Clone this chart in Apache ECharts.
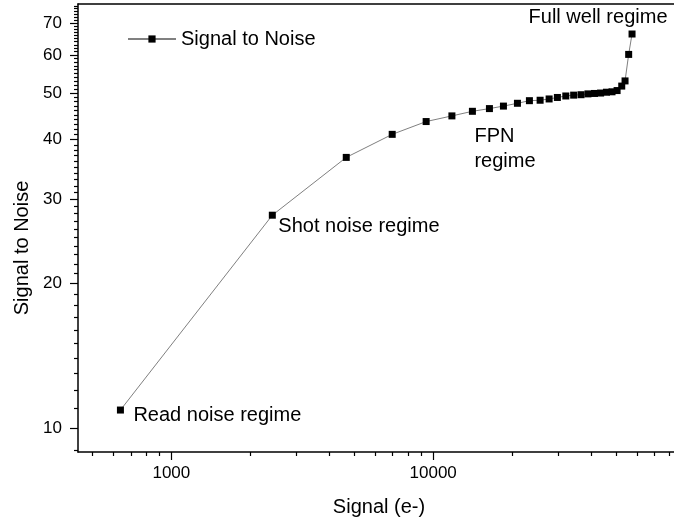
<!DOCTYPE html>
<html>
<head>
<meta charset="utf-8">
<script src="https://cdn.jsdelivr.net/npm/echarts@6/dist/echarts.min.js"></script>
<style>
  html, body { margin: 0; padding: 0; background: #fff; }
  #chart { width: 674px; height: 522px; }
</style>
</head>
<body>
<div id="chart"></div>
<script>
// Signal (electrons) and measured signal-to-noise ratio
const signal = [639, 2430, 4656, 6974, 9400, 11790, 14120, 16400, 18550, 20980,
                23310, 25610, 27720, 29810, 32100, 34400, 36700, 39000, 41300,
                43600, 45900, 48200, 50400, 52500, 54050, 55800, 57480];
const snr = [10.9, 27.8, 36.7, 41.0, 43.6, 44.8, 45.8, 46.4, 46.96, 47.6,
             48.2, 48.3, 48.6, 48.95, 49.3, 49.5, 49.6, 49.8, 49.9,
             50.0, 50.2, 50.3, 50.6, 51.7, 53.0, 60.2, 66.4];

// Axis ticks
const xMajorTicks = [1000, 10000];
const xMinorTicks = [500, 600, 700, 800, 900,
                     2000, 3000, 4000, 5000, 6000, 7000, 8000, 9000,
                     20000, 30000, 40000, 50000, 60000, 70000, 80000];
const yMajorTicks = [10, 20, 30, 40, 50, 60, 70];
const yMinorTicks = [9, 11, 12, 13, 14, 15, 16, 17, 18, 19,
                     21, 22, 23, 24, 25, 26, 27, 28, 29,
                     31, 32, 33, 34, 35, 36, 37, 38, 39,
                     41, 42, 43, 44, 45, 46, 47, 48, 49,
                     51, 52, 53, 54, 55, 56, 57, 58, 59,
                     61, 62, 63, 64, 65, 66, 67, 68, 69,
                     71, 72, 73, 74, 75, 76];

// Region annotations: data point index and text
const regimeIndex = [0, 1, 6, 26];
const regimeText = ['Read noise regime', 'Shot noise regime', 'FPN\nregime', 'Full well regime'];

const xRange = [440, 83130];
const yRange = [8.91, 76.7];

const FONT = '"Liberation Sans", Arial, Helvetica, sans-serif';
const AX = '#000';

const labelStyle = [
  { position: 'inside', align: 'left', verticalAlign: 'middle', offset: [13, 5] },
  { position: 'inside', align: 'left', verticalAlign: 'middle', offset: [6, 11] },
  { position: 'inside', align: 'left', verticalAlign: 'middle', offset: [2, 38], lineHeight: 25 },
  { position: 'inside', align: 'center', verticalAlign: 'middle', offset: [-34, -17] }
];

const seriesData = signal.map((s, i) => {
  const item = { value: [s, snr[i]] };
  const k = regimeIndex.indexOf(i);
  if (k >= 0) {
    item.label = Object.assign({
      show: true,
      formatter: regimeText[k],
      color: '#000',
      fontFamily: FONT,
      fontSize: 20
    }, labelStyle[k]);
  }
  return item;
});

function logAxis(range, extra) {
  return Object.assign({
    type: 'log',
    logBase: 10,
    min: range[0],
    max: range[1],
    splitLine: { show: false },
    axisLine: { show: false },
    axisTick: { show: false },
    axisLabel: { show: false }
  }, extra);
}

const chart = echarts.init(document.getElementById('chart'), null, { renderer: 'canvas' });

chart.setOption({
  animation: false,
  backgroundColor: '#fff',
  grid: { left: 78, right: 0, top: 4, bottom: 70, containLabel: false },
  legend: {
    left: 122,
    top: 24,
    itemWidth: 48,
    itemHeight: 9,
    textStyle: { fontFamily: FONT, fontSize: 20, color: '#000' },
    data: ['Signal to Noise']
  },
  xAxis: [
    logAxis(xRange, {
      position: 'bottom',
      axisLine: { show: true, lineStyle: { color: AX, width: 1.5 } },
      axisTick: { show: true, inside: false, length: 8, customValues: xMajorTicks,
                  lineStyle: { color: AX, width: 1.2 } },
      axisLabel: { show: true, customValues: xMajorTicks, margin: 13,
                   fontFamily: FONT, fontSize: 17, color: '#000',
                   formatter: v => String(v) }
    }),
    logAxis(xRange, {
      position: 'bottom',
      axisTick: { show: true, inside: false, length: 4, customValues: xMinorTicks,
                  lineStyle: { color: AX, width: 1.2 } }
    }),
    logAxis(xRange, {
      position: 'top',
      axisLine: { show: true, lineStyle: { color: AX, width: 1.5 } }
    })
  ],
  yAxis: [
    logAxis(yRange, {
      position: 'left',
      axisLine: { show: true, lineStyle: { color: AX, width: 1.5 } },
      axisTick: { show: true, inside: false, length: 8, customValues: yMajorTicks,
                  lineStyle: { color: AX, width: 1.2 } },
      axisLabel: { show: true, customValues: yMajorTicks, margin: 16,
                   fontFamily: FONT, fontSize: 17, color: '#000',
                   formatter: v => String(v) }
    }),
    logAxis(yRange, {
      position: 'left',
      axisTick: { show: true, inside: false, length: 4, customValues: yMinorTicks,
                  lineStyle: { color: AX, width: 1.2 } }
    })
  ],
  graphic: [
    {
      type: 'text', x: 379, y: 507,
      style: { text: 'Signal (e-)', fill: '#000', font: '20px ' + FONT,
               textAlign: 'center', textVerticalAlign: 'middle' }
    },
    {
      type: 'text', x: 22, y: 248, rotation: Math.PI / 2,
      style: { text: 'Signal to Noise', fill: '#000', font: '20px ' + FONT,
               textAlign: 'center', textVerticalAlign: 'middle' }
    }
  ],
  series: [{
    name: 'Signal to Noise',
    type: 'line',
    xAxisIndex: 0,
    yAxisIndex: 0,
    data: seriesData,
    symbol: 'rect',
    symbolSize: 7,
    showAllSymbol: true,
    clip: false,
    lineStyle: { color: '#808080', width: 1 },
    itemStyle: { color: '#000', borderWidth: 0 },
    emphasis: { disabled: true }
  }]
});
</script>
</body>
</html>
